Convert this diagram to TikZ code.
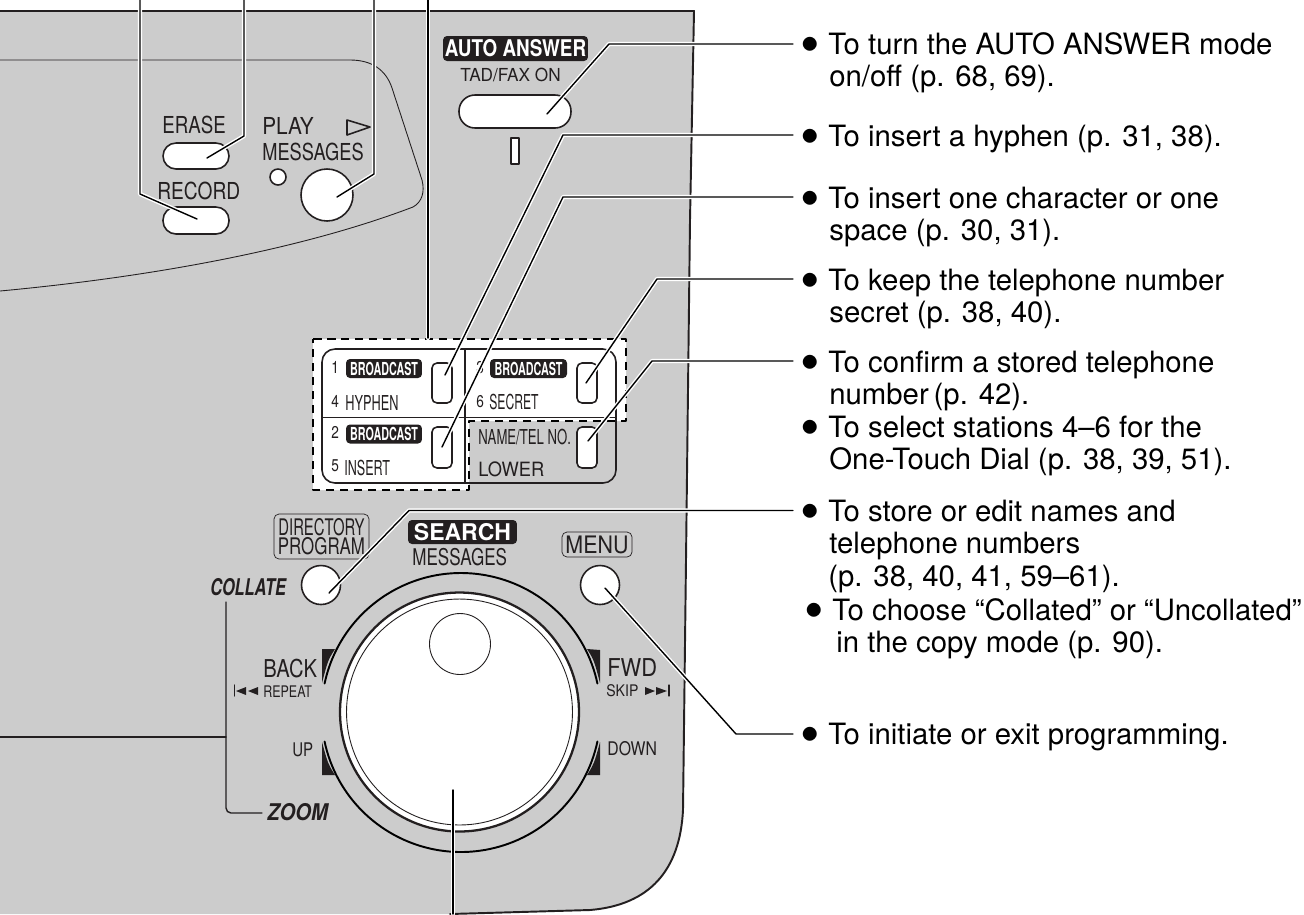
\documentclass[tikz,border=0pt]{standalone}
\usepackage{fontspec}
\usepackage{graphicx}
\setmainfont{TeX Gyre Heros}
\usetikzlibrary{arrows.meta}
\definecolor{panelgrey}{HTML}{CCCCCC}
\definecolor{ink}{HTML}{231F20}
\newcommand{\sz}[1]{\fontsize{#1}{#1}\selectfont}
\newcommand{\sq}[2]{\scalebox{#1}[1]{#2}}
\newcommand{\bul}{\strut\llap{\raisebox{-.33em}{\scalebox{1.9}{\textbullet}}\hspace{.16cm}}}
\tikzset{
  btn/.style={draw=ink,fill=white,line width=.9pt,inner sep=0pt},
  lbl/.style={anchor=base west,inner sep=0pt,text=ink},
  tag/.style={fill=ink,text=white,rounded corners=.08cm,inner sep=0pt},
  note/.style={anchor=north west,inner sep=0pt,align=left,font=\fontsize{16.7}{18.5}\selectfont},
  leader/.style={line width=.8pt,preaction={draw,white,line width=2.4pt}},
  ring/.style={draw=black,line width=1.1pt}
}
\begin{document}
\begin{tikzpicture}[line cap=round,line join=round,x=0.02cm,y=-0.02cm]
\useasboundingbox (0,0) rectangle (1304,914);
\fill[panelgrey] (0,11) -- (694,11) -- (690,220) -- (686,560) -- (683,810) .. controls (680,870) and (650,905) .. (590,910) -- (450,914) -- (0,914) -- cycle;
\draw[line width=1.1pt,color=ink] (0,11) -- (694,11) -- (690,220) -- (686,560) -- (683,810) .. controls (680,870) and (650,905) .. (590,910) -- (450,914);
\draw[line width=.5pt,color=ink] (0,60) -- (350,60) .. controls (372,60) and (386,70) .. (392,88) -- (422,180) .. controls (425,192) and (422,202) .. (413,207) .. controls (300,250) and (150,277) .. (0,291);
\fill[white,draw=black,line width=1.1pt,line cap=butt,dash pattern=on .17cm off .11cm] (313,339) -- (626,339) -- (626,421) -- (469,421) -- (469,490) -- (313,490) -- cycle;
\draw[line width=.9pt,color=ink,rounded corners=.26cm] (322,349) rectangle (616,483);
\draw[line width=.9pt,color=ink] (465,349) -- (465,483);
\draw[line width=.9pt,color=ink] (322,417.5) -- (616,417.5);

\node[btn,rounded corners=.26cm,minimum width=1.32cm,minimum height=.52cm] (erase) at (196,156) {};
\node[btn,rounded corners=.26cm,minimum width=1.32cm,minimum height=.54cm] (record) at (196,220.5) {};
\node[btn,circle,minimum size=1.04cm] (play) at (327,195) {};
\node[btn,circle,minimum size=.32cm] (led) at (278,177) {};
\node[btn,rounded corners=.32cm,minimum width=2.24cm,minimum height=.66cm] (auto) at (515,111.5) {};
\node[btn,line width=.7pt,minimum width=.16cm,minimum height=.52cm] (lamp) at (515,151) {};
\node[btn,rounded corners=.1cm,minimum width=.4cm,minimum height=.8cm] (one) at (442,383) {};
\node[btn,rounded corners=.1cm,minimum width=.4cm,minimum height=.8cm] (three) at (587,383) {};
\node[btn,rounded corners=.1cm,minimum width=.4cm,minimum height=.82cm] (two) at (442,447.5) {};
\node[btn,rounded corners=.1cm,minimum width=.4cm,minimum height=.82cm] (lower) at (587,447.5) {};
\node[btn,circle,minimum size=.78cm] (directory) at (321,585) {};
\node[btn,circle,minimum size=.78cm] (menu) at (600,585) {};
\node[btn,circle,line width=1.3pt,minimum size=4.78cm] (dial) at (459.5,712) {};
\node[circle,draw=ink,line width=.5pt,inner sep=0pt,minimum size=4.52cm] (rim) at (dial) {};
\node[circle,draw=ink,line width=.5pt,inner sep=0pt,minimum size=1.22cm] (mark) at (460,644) {};

\coordinate (ringc) at (461,712.5);
\draw[ring] ([shift={(168:2.79cm)}]ringc) arc[start angle=168,end angle=12,radius=2.79cm];
\draw[ring] ([shift={(192:2.79cm)}]ringc) arc[start angle=192,end angle=348,radius=2.79cm];
\fill[ink] (322,683) -- (322,649) -- (335,649) .. controls (328,660) .. cycle;
\fill[ink] (600,683) -- (600,650) -- (587,649) .. controls (594,660) .. cycle;
\fill[ink] (322,742) -- (322,775) -- (335,775) .. controls (328,764) .. cycle;
\fill[ink] (600,742) -- (600,775) -- (587,775) .. controls (594,764) .. cycle;

\node[lbl,font=\sz{13.3}] (eraselbl) at (162,133.5) {\sq{.8}{ERASE}};
\node[lbl,font=\sz{13.3}] (recordlbl) at (157,199.5) {\sq{.82}{RECORD}};
\node[lbl,font=\sz{13.3}] (playlbl) at (262,134) {\sq{.89}{PLAY}};
\node[lbl,font=\sz{13.3}] (messageslbl) at (262,160.7) {\sq{.78}{MESSAGES}};
\draw[line width=.9pt,color=ink] (347,120) -- (370,127) -- (347,135) -- cycle;
\node[tag,font=\bfseries\sz{13.1},minimum width=2.9cm,minimum height=.5cm] (autolbl) at (515.5,48.5) {\sq{.82}{AUTO ANSWER}};
\node[lbl,font=\sz{10.2}] (tadlbl) at (460,81) {\sq{.96}{TAD/FAX ON}};

\node[tag,font=\bfseries\sz{10.2},minimum width=1.52cm,minimum height=.38cm] (bca) at (384,368.5) {\sq{.6}{BROADCAST}};
\node[tag,font=\bfseries\sz{10.2},minimum width=1.54cm,minimum height=.38cm] (bcc) at (528.5,368.5) {\sq{.6}{BROADCAST}};
\node[tag,font=\bfseries\sz{10.2},minimum width=1.52cm,minimum height=.38cm] (bcb) at (384,434) {\sq{.6}{BROADCAST}};
\node[lbl,font=\sz{9.7}] (numa) at (331,373) {\sq{.8}{1}};
\node[lbl,font=\sz{9.7}] (numc) at (476,373) {\sq{.8}{3}};
\node[lbl,font=\sz{9.7}] (numd) at (331,407) {\sq{.8}{4}};
\node[lbl,font=\sz{9.7}] (numf) at (476,407) {\sq{.8}{6}};
\node[lbl,font=\sz{9.7}] (numb) at (331,438) {\sq{.8}{2}};
\node[lbl,font=\sz{9.7}] (nume) at (331,471) {\sq{.8}{5}};
\node[lbl,font=\sz{11.7}] (hyphenlbl) at (345,410) {\sq{.62}{HYPHEN}};
\node[lbl,font=\sz{11.7}] (secretlbl) at (489,409) {\sq{.59}{SECRET}};
\node[lbl,font=\sz{11.7}] (insertlbl) at (344,475) {\sq{.61}{INSERT}};
\node[lbl,font=\sz{11.7}] (namelbl) at (478,444) {\sq{.64}{NAME/TEL NO.}};
\node[lbl,font=\sz{11.2}] (lowerlbl) at (478,476) {\sq{.93}{LOWER}};

\node[draw=ink,line width=.4pt,rounded corners=.1cm,inner sep=0pt,minimum width=1.9cm,minimum height=.9cm,align=center,text=ink,font=\fontsize{13}{11}\selectfont] (dirlbl) at (321.5,536.5) {\sq{.65}{DIRECTORY}\\\sq{.74}{PROGRAM}};
\node[draw=ink,line width=.4pt,rounded corners=.1cm,inner sep=0pt,minimum width=1.4cm,minimum height=.5cm,text=ink,font=\sz{13.7}] (menulbl) at (597,544.5) {\sq{.89}{MENU}};
\node[tag,font=\bfseries\sz{13.1},minimum width=2.18cm,minimum height=.48cm] (searchlbl) at (462.5,532) {SEARCH};
\node[lbl,font=\sz{13.1}] (msglbl) at (412,565) {\sq{.74}{MESSAGES}};
\node[lbl,font=\bfseries\itshape\sz{13.1}] (collatelbl) at (210,595) {\sq{.71}{COLLATE}};
\node[lbl,font=\bfseries\itshape\sz{13.1}] (zoomlbl) at (267,820.7) {\sq{.88}{ZOOM}};
\node[lbl,font=\sz{14}] (backlbl) at (263,677.7) {\sq{.82}{BACK}};
\node[lbl,font=\sz{9.1}] (repeatlbl) at (263,697) {\sq{.78}{REPEAT}};
\node[lbl,font=\sz{10.7}] (uplbl) at (292,756) {\sq{.8}{UP}};
\node[lbl,font=\sz{14}] (fwdlbl) at (607,676.7) {\sq{.89}{FWD}};
\node[lbl,font=\sz{9.1}] (skiplbl) at (606,696.7) {\sq{.88}{SKIP}};
\node[lbl,font=\sz{10.7}] (downlbl) at (607,755) {\sq{.84}{DOWN}};
\draw[line width=.7pt,color=ink] (234.5,685) -- (234.5,696);
\fill[ink] (236,691) -- (246,687) -- (246,695) -- cycle;
\fill[ink] (248,691) -- (258,687) -- (258,695) -- cycle;
\fill[ink] (645,687) -- (655,691) -- (645,695) -- cycle;
\fill[ink] (656,687) -- (667,691) -- (656,695) -- cycle;
\draw[line width=.7pt,color=ink] (669,685) -- (669,696);

\coordinate (cotop) at (226,602);
\coordinate (coend) at (262,813);
\coordinate (cocorner) at (226,813);
\coordinate (coleft) at (0,737);
\coordinate (cojoin) at (226,737);
\draw[line width=.8pt,color=ink,rounded corners=.1cm] (cotop) -- (cocorner) -- (coend);
\draw[line width=.8pt,color=ink] (coleft) -- (cojoin);

\coordinate (recordtop) at (140,0);
\coordinate (recordbend) at (140,194);
\coordinate (recordtip) at (197,219);
\coordinate (erasetop) at (244,0);
\coordinate (erasebend) at (244,136);
\coordinate (erasetip) at (207,158);
\coordinate (playtop) at (374,0);
\coordinate (playbend) at (374,174);
\coordinate (playtip) at (337,197);
\coordinate (boxtop) at (428,0);
\coordinate (boxend) at (428,338);
\coordinate (autotip) at (547,114);
\coordinate (autobend) at (609,44);
\coordinate (autoend) at (793,44);
\coordinate (hyphentip) at (445,375);
\coordinate (hyphenbend) at (563,135);
\coordinate (hyphenend) at (793,135);
\coordinate (inserttip) at (442,447);
\coordinate (insertbend) at (563,197);
\coordinate (insertend) at (793,197);
\coordinate (secrettip) at (586,383);
\coordinate (secretbend) at (657,279);
\coordinate (secretend) at (793,279);
\coordinate (lowertip) at (588,441);
\coordinate (lowerbend) at (652,361);
\coordinate (lowerend) at (793,361);
\coordinate (dirtip) at (329,593);
\coordinate (dirbend) at (409,510.5);
\coordinate (dirend) at (793,510.5);
\coordinate (menutip) at (605,588);
\coordinate (menubend) at (736,734);
\coordinate (menuend) at (793,734);
\coordinate (dialtip) at (453,790);
\coordinate (dialend) at (453,914);
\draw[leader] (recordtop) -- (recordbend) -- (recordtip);
\draw[leader] (erasetop) -- (erasebend) -- (erasetip);
\draw[leader] (playtop) -- (playbend) -- (playtip);
\draw[leader] (boxtop) -- (boxend);
\draw[leader] (autotip) -- (autobend) -- (autoend);
\draw[leader] (hyphentip) -- (hyphenbend) -- (hyphenend);
\draw[leader] (inserttip) -- (insertbend) -- (insertend);
\draw[leader] (secrettip) -- (secretbend) -- (secretend);
\draw[leader] (lowertip) -- (lowerbend) -- (lowerend);
\draw[leader] (dirtip) -- (dirbend) -- (dirend);
\draw[leader] (menutip) -- (menubend) -- (menuend);
\draw[leader] (dialtip) -- (dialend);

\node[note] (turn) at (828,31) {\bul To turn the AUTO ANSWER mode\\\hspace*{.02cm}on/off (p. 68, 69).};
\node[note] (hyphen) at (828,123) {\bul To insert a hyphen (p. 31, 38).};
\node[note] (insert) at (828,185) {\bul To insert one character or one\\\hspace*{.02cm}space (p. 30, 31).};
\node[note] (secret) at (828,267) {\bul To keep the telephone number\\\hspace*{.02cm}secret (p. 38, 40).};
\node[note] (confirm) at (828,349) {\bul To confirm a stored telephone\\\hspace*{.02cm}number\,(p. 42).};
\node[note] (select) at (828,414) {\bul To select stations 4--6 for the\\\hspace*{.02cm}One-Touch Dial (p. 38, 39, 51).};
\node[note] (store) at (828,498) {\bul To store or edit names and\\\hspace*{.02cm}telephone numbers\\(p. 38, 40, 41, 59--61).};
\node[note] (choose) at (832,597) {\bul To choose “Collated” or “Uncollated”\\\hspace*{.08cm}in the copy mode (p. 90).};
\node[note] (initiate) at (828,721) {\bul To initiate or exit programming.};
\end{tikzpicture}
\end{document}
